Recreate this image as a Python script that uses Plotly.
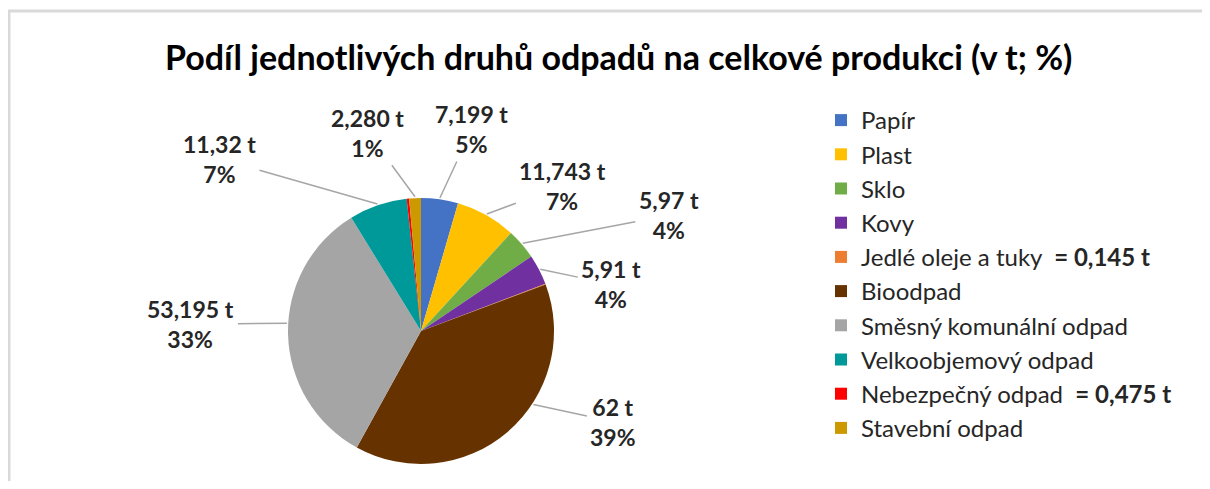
import math
import plotly.graph_objects as go

# ---- data ----
categories = ["Papír", "Plast", "Sklo", "Kovy", "Jedlé oleje a tuky", "Bioodpad",
              "Směsný komunální odpad", "Velkoobjemový odpad", "Nebezpečný odpad", "Stavební odpad"]
values = [7.199, 11.743, 5.97, 5.91, 0.145, 62, 53.195, 11.32, 0.475, 2.280]
value_labels = ["7,199 t", "11,743 t", "5,97 t", "5,91 t", "0,145 t", "62 t",
                "53,195 t", "11,32 t", "0,475 t", "2,280 t"]
pct_labels = ["5%", "7%", "4%", "4%", "", "39%", "33%", "7%", "", "1%"]
legend_notes = ["", "", "", "", "= 0,145 t", "", "", "", "= 0,475 t", ""]

# ---- style ----
colors = ["#4472C4", "#FFC000", "#70AD47", "#7030A0", "#ED7D31", "#663300",
          "#A5A5A5", "#009999", "#FF0000", "#CC9900"]
# label text offsets (pixels) from the leader anchor point; None = no data label
label_offsets = [(32, -69), (76, -28), (146, -28), (71, 15), None, (80, 17),
                 (-96, 1), (-158, -45), None, (-47, -64)]
# leader-line anchor shift from the slice mid-angle (degrees)
anchor_shift = [0, 0, 0, 0, 0, -16, 4.7, 0, 0, 0]

# page body has an 8px margin; work in window pixel coordinates
OFF = 8
W, H = 1210 - 2 * OFF, 489 - 2 * OFF
CX, CY, R = 421, 331, 133
FONT = "Lato"


def px(x):
    return (x - OFF) / W


def py(y):
    return 1 - (y - OFF) / H


legend_names = []
for c, n in zip(categories, legend_notes):
    s = c
    if n:
        s += f'  <b>{n}</b>'
    legend_names.append(s)

fig = go.Figure(go.Pie(
    labels=legend_names,
    values=values,
    sort=False,
    direction="clockwise",
    rotation=0,
    marker=dict(colors=colors, line=dict(width=0)),
    textinfo="none",
    hoverinfo="label+value+percent",
    domain=dict(x=[px(CX - R), px(CX + R)], y=[py(CY + R), py(CY - R)]),
))

total = sum(values)
annotations = []
cum = 0.0
for v, vl, pl, off, sh in zip(values, value_labels, pct_labels, label_offsets, anchor_shift):
    mid = (cum + v / 2) / total * 2 * math.pi + math.radians(sh)
    cum += v
    if off is None:
        continue
    ex = CX + R * 1.01 * math.sin(mid)
    ey = CY - R * 1.01 * math.cos(mid)
    annotations.append(dict(
        x=px(ex), y=py(ey), xref="paper", yref="paper",
        ax=off[0], ay=off[1], axref="pixel", ayref="pixel",
        text=f"<b>{vl}</b><br><b>{pl}</b>",
        showarrow=True, arrowhead=0, arrowwidth=1.5, arrowcolor="#A6A6A6",
        borderpad=3,
        font=dict(family=FONT, size=23, color="#262626"),
        align="center",
    ))

annotations.append(dict(
    x=px(618), y=py(56), xref="paper", yref="paper",
    text="<b>Podíl jednotlivých druhů odpadů na celkové produkci (v t; %)</b>",
    showarrow=False, xanchor="center", yanchor="middle",
    font=dict(family=FONT, size=34, color="#000000"),
))

fig.update_layout(
    width=W, height=H,
    margin=dict(l=0, r=0, t=0, b=0),
    paper_bgcolor="white",
    plot_bgcolor="white",
    font=dict(family=FONT, color="#262626"),
    showlegend=True,
    legend=dict(
        x=px(821), y=py(98), xanchor="left", yanchor="top",
        font=dict(family=FONT, size=24, color="#262626"),
        bgcolor="rgba(0,0,0,0)",
    ),
    annotations=annotations,
    shapes=[dict(type="rect", xref="paper", yref="paper",
                 x0=px(9), x1=1.05, y0=-0.05, y1=py(11),
                 line=dict(color="#D9D9D9", width=3), fillcolor="rgba(0,0,0,0)")],
)

fig.write_html("out.html")
